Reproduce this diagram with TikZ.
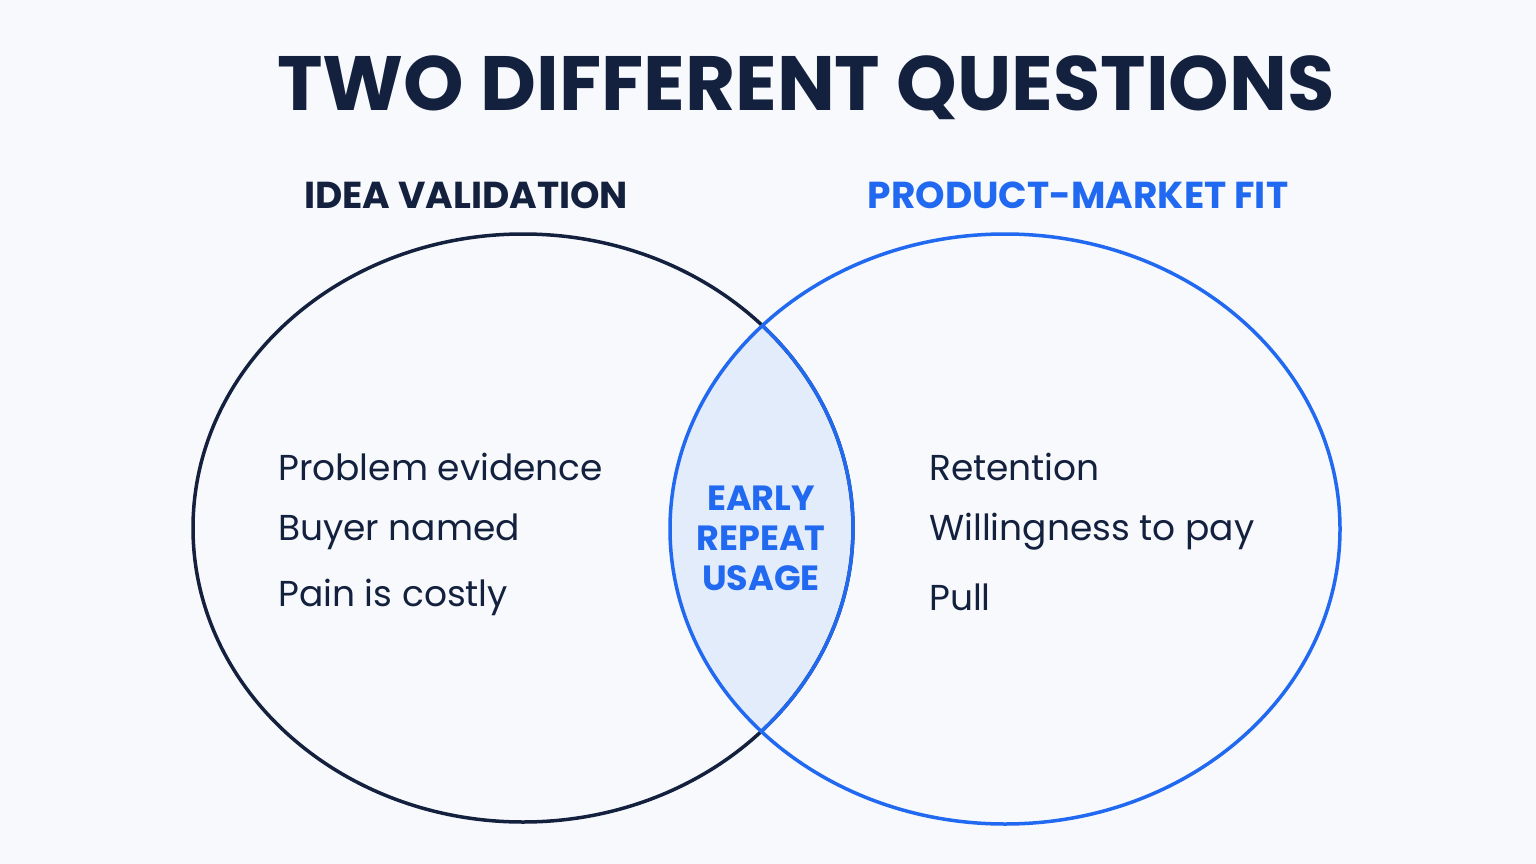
\documentclass[tikz,border=0pt]{standalone}
\usepackage{fontspec}
\setmainfont{Poppins}
\definecolor{navy}{HTML}{13213F}
\definecolor{blu}{HTML}{2069F0}
\definecolor{lens}{HTML}{E3ECFB}
\definecolor{bg}{HTML}{F7F9FC}
\begin{document}
\begin{tikzpicture}[x=1pt,y=-1pt,
  item/.style={anchor=west,font=\fontsize{36}{40}\selectfont,text=navy,inner sep=0},
  head/.style={font=\fontsize{37.5}{40}\selectfont\bfseries,inner sep=0}]
\fill[bg] (0,0) rectangle (1536,864);
\useasboundingbox (0,0) rectangle (1536,864);
\begin{scope}
\clip (523,528) ellipse [x radius=330,y radius=294];
\fill[lens] (1005,529) ellipse [x radius=335,y radius=295];
\end{scope}
\draw[navy,line width=3.5] (523,528) ellipse [x radius=330,y radius=294];
\draw[blu,line width=3.5] (1005,529) ellipse [x radius=335,y radius=295];
\begin{scope}
\clip (1005,529) ellipse [x radius=336,y radius=296];
\draw[blu,line width=3.5] (523,528) ellipse [x radius=330,y radius=294];
\end{scope}
\node[font=\fontsize{77}{80}\selectfont\bfseries,text=navy,inner sep=0] (title) at (806,88) {TWO DIFFERENT QUESTIONS};
\node[head,text=navy] (l) at (466,195) {IDEA VALIDATION};
\node[head,text=blu] (r) at (1078,195) {PRODUCT-MARKET FIT};
\node[item] (a1) at (278,467) {Problem evidence};
\node[item] (a2) at (278,532) {Buyer named};
\node[item] (a3) at (278,597) {Pain is costly};
\node[item] (b1) at (929,467) {Retention};
\node[item] (b2) at (929,532) {Willingness to pay};
\node[item] (b3) at (929,597) {Pull};
\node[font=\fontsize{35}{40}\selectfont\bfseries,text=blu,align=center,inner sep=0] (c) at (761,538) {EARLY\\REPEAT\\USAGE};
\end{tikzpicture}
\end{document}
